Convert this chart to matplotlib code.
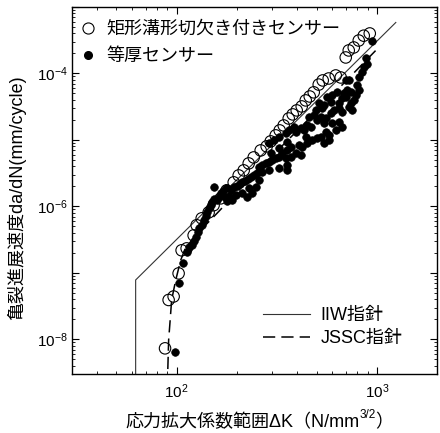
import numpy as np
import matplotlib
matplotlib.use("Agg")
import matplotlib.pyplot as plt
from matplotlib.lines import Line2D
from matplotlib.ticker import LogLocator, FuncFormatter, NullFormatter

plt.rcParams['font.family'] = ['Liberation Sans', 'Noto Sans CJK JP']
plt.rcParams['mathtext.fontset'] = 'custom'
plt.rcParams['mathtext.rm'] = 'Liberation Sans'
plt.rcParams['mathtext.it'] = 'Liberation Sans:italic'

# 矩形溝形切欠き付きセンサー (open circles)
notch_dk = [87.5, 91.2, 96.6, 102.3, 105.9, 112.2, 121.6, 125.9, 133.4, 144.5,
            153.0, 166.0, 177.8, 192.8, 204.2, 216.3, 229.1, 242.7, 263.0, 281.8,
            295.1, 312.6, 327.3, 342.7, 363.1, 380.2, 398.1, 421.7, 441.6, 462.4,
            484.2, 512.9, 537.0, 575.4, 623.7, 660.7, 699.8, 724.4, 767.4, 812.8,
            860.9, 922.6]
notch_rate = [7.3e-9, 3.9e-8, 4.4e-8, 9.8e-8, 2.18e-7, 2.33e-7, 3.66e-7, 5.2e-7, 6.6e-7, 8.1e-7,
              1.04e-6, 1.32e-6, 1.74e-6, 2.3e-6, 2.92e-6, 3.48e-6, 4.43e-6, 5.45e-6, 6.95e-6, 8.0e-6,
              9.5e-6, 1.17e-5, 1.39e-5, 1.65e-5, 2.1e-5, 2.42e-5, 2.78e-5, 3.19e-5, 3.93e-5, 4.5e-5,
              5.2e-5, 6.8e-5, 7.85e-5, 8.4e-5, 9.33e-5, 8.7e-5, 1.74e-4, 2.22e-4, 2.46e-4, 3.13e-4,
              3.7e-4, 4.0e-4]

# 等厚センサー (filled dots)
flat_dk = [97.7, 102.3, 107.2, 114.8, 112.2, 118.9, 121.6, 124.5, 127.4, 128.8,
           133.4, 136.5, 139.6, 141.3, 144.5, 147.9, 149.6, 153.1, 153.1, 158.5,
           162.2, 166.0, 169.8, 173.8, 177.8, 182.0, 175.8, 186.2, 192.8, 199.5,
           206.5, 211.3, 218.8, 226.5, 234.4, 242.7, 251.2, 188.4, 197.2, 211.3,
           223.9, 237.1, 229.1, 248.3, 257.0, 257.0, 266.1, 266.1, 278.6, 288.4,
           288.4, 298.5, 312.6, 323.6, 323.6, 335.0, 350.8, 354.8, 354.8, 354.8,
           371.5, 371.5, 295.1, 323.6, 354.8, 288.4, 305.5, 323.6, 350.8, 363.1,
           384.6, 393.6, 416.9, 431.5, 446.7, 467.7, 484.2, 393.6, 416.9, 407.4,
           446.7, 473.2, 501.2, 441.6, 421.7, 524.8, 555.9, 575.4, 575.4, 543.3,
           623.7, 668.3, 543.3, 595.7, 645.7, 524.8, 501.2, 457.1, 555.9, 588.8,
           609.6, 645.7, 668.3, 724.4, 749.9, 530.9, 543.3, 495.5, 588.8, 595.7,
           631.0, 668.3, 699.8, 683.9, 707.9, 741.3, 785.2, 767.4, 741.3, 645.7,
           724.4, 699.8, 812.8, 841.4, 794.3, 860.9, 891.3, 881.0, 944.1, 812.8,
           512.9, 562.3]
flat_rate = [6.4e-9, 6.95e-8, 1.39e-7, 2.42e-7, 2.03e-7, 2.59e-7, 2.98e-7, 3.42e-7, 4.06e-7, 4.67e-7,
             5.2e-7, 6.15e-7, 7.07e-7, 8.1e-7, 9.3e-7, 1.04e-6, 1.15e-6, 1.27e-6, 1.93e-6, 1.23e-6,
             1.36e-6, 1.57e-6, 1.68e-6, 1.36e-6, 1.19e-6, 1.41e-6, 1.87e-6, 1.74e-6, 1.93e-6, 2.0e-6,
             2.14e-6, 2.3e-6, 2.38e-6, 2.55e-6, 2.73e-6, 2.92e-6, 3.13e-6, 1.23e-6, 1.46e-6, 1.57e-6,
             1.36e-6, 1.57e-6, 1.87e-6, 1.93e-6, 2.46e-6, 3.86e-6, 3.25e-6, 4.14e-6, 4.43e-6, 4.59e-6,
             3.48e-6, 4.9e-6, 5.27e-6, 5.45e-6, 3.73e-6, 6.3e-6, 5.27e-6, 6.95e-6, 4.14e-6, 3.48e-6,
             7.7e-6, 5.45e-6, 6.3e-6, 7.45e-6, 9.17e-6, 8.9e-6, 9.8e-6, 1.09e-5, 1.25e-5, 1.39e-5,
             1.54e-5, 1.3e-5, 1.49e-5, 1.39e-5, 1.65e-5, 1.54e-5, 2.34e-5, 6.3e-6, 5.85e-6, 8.27e-6,
             8.9e-6, 9.8e-6, 1.05e-5, 1.09e-5, 7.7e-6, 1.09e-5, 1.3e-5, 1.17e-5, 9.8e-6, 8.9e-6,
             1.39e-5, 1.54e-5, 1.77e-5, 1.77e-5, 1.83e-5, 2.18e-5, 1.96e-5, 2.18e-5, 2.1e-5, 2.5e-5,
             2.78e-5, 2.98e-5, 2.59e-5, 3.08e-5, 2.78e-5, 2.98e-5, 3.3e-5, 2.78e-5, 3.66e-5, 4.67e-5,
             5.18e-5, 4.21e-5, 4.36e-5, 5.0e-5, 5.55e-5, 5.18e-5, 4.67e-5, 3.93e-5, 3.54e-5, 3.54e-5,
             7.85e-5, 7.85e-5, 8.7e-5, 1.035e-4, 6.6e-5, 1.23e-4, 1.41e-4, 1.68e-4, 3.13e-4, 5.55e-5,
             3.54e-5, 4.36e-5]

# IIW指針 design curve (threshold then slope 3)
iiw_dk = [62.4, 62.4, 1245]
iiw_rate = [1e-9, 7.8e-8, 5.85e-4]

# JSSC指針 design curve
jssc_dk = [90.0, 90.2, 91.2, 93.0, 94.4, 98.9, 104.7, 110.9, 130, 160, 250, 500, 1000]
jssc_rate = [1e-9, 3.0e-9, 9.7e-9, 2.1e-8, 3.9e-8, 7.7e-8, 1.54e-7, 2.4e-7, 4.2e-7, 8.0e-7,
             3.3e-6, 2.7e-5, 2.3e-4]

fig = plt.figure(figsize=(4.4, 4.33), dpi=100)
ax = fig.add_axes([72/440, 59/433, 365/440, 367/433])

ax.plot(iiw_dk, iiw_rate, color='#333333', lw=0.8)
ax.plot(jssc_dk, jssc_rate, color='k', lw=1.1, ls=(0, (8, 4)))
ax.scatter(flat_dk, flat_rate, s=30, facecolor='k', edgecolor='k', lw=0.5, zorder=3)
ax.scatter(notch_dk, notch_rate, s=68, facecolor='none', edgecolor='k', lw=0.8, zorder=4)

ax.set_xscale('log')
ax.set_yscale('log')
ax.set_xlim(30, 2000)
ax.set_ylim(3e-9, 1e-3)

ax.xaxis.set_major_locator(LogLocator(base=10, numticks=10))
ax.xaxis.set_minor_locator(LogLocator(base=10, subs=np.arange(2, 10), numticks=20))
ax.yaxis.set_major_locator(LogLocator(base=10, numticks=20))
ax.yaxis.set_minor_locator(LogLocator(base=10, subs=np.arange(2, 10), numticks=40))


def xfmt(v, pos):
    return r'$\mathrm{10^{%d}}$' % int(round(np.log10(v)))


def yfmt(v, pos):
    e = int(round(np.log10(v)))
    if e % 2:
        return ''
    return r'$\mathrm{10^{%d}}$' % e


ax.xaxis.set_major_formatter(FuncFormatter(xfmt))
ax.yaxis.set_major_formatter(FuncFormatter(yfmt))
ax.xaxis.set_minor_formatter(NullFormatter())
ax.yaxis.set_minor_formatter(NullFormatter())
ax.tick_params(which='both', direction='in', top=True, right=True, labelsize=11)
ax.tick_params(which='major', length=5, width=0.8)
ax.tick_params(which='minor', length=2.5, width=0.6)
ax.tick_params(axis='x', pad=6)
ax.tick_params(axis='y', pad=3)
for s in ax.spines.values():
    s.set_linewidth(1.0)

ax.set_ylabel('亀裂進展速度da/dN(mm/cycle)', fontsize=13)
ax.yaxis.set_label_coords(-0.125, 0.48)

h_open = Line2D([], [], ls='none', marker='o', mfc='none', mec='k', ms=8, mew=0.8)
h_fill = Line2D([], [], ls='none', marker='o', mfc='k', mec='k', ms=5.5)
leg1 = ax.legend([h_open, h_fill], ['矩形溝形切欠き付きセンサー', '等厚センサー'],
                 loc='upper left', bbox_to_anchor=(0.019, 0.962), frameon=False,
                 fontsize=13, handlelength=1.0, handletextpad=0.5, borderpad=0,
                 borderaxespad=0, labelspacing=0.55)
ax.add_artist(leg1)

h_iiw = Line2D([], [], color='#333333', lw=0.8)
h_jssc = Line2D([], [], color='k', lw=1.1, ls=(0, (8, 4)))
ax.legend([h_iiw, h_jssc], ['IIW指針', 'JSSC指針'], loc='upper left',
          bbox_to_anchor=(0.523, 0.183), frameon=False, fontsize=13,
          handlelength=2.6, handletextpad=0.6, borderpad=0, borderaxespad=0,
          labelspacing=0.35)

# x label with superscript exponent pieced together
fig.canvas.draw()
r = fig.canvas.get_renderer()
base_y = 6/433
t1 = fig.text(125/440, base_y, '応力拡大係数範囲ΔK（N/mm', fontsize=13, va='baseline')
bb = t1.get_window_extent(r)
t2 = fig.text(bb.x1/440, base_y + 9/433, '3/2', fontsize=8.5, va='baseline')
bb2 = t2.get_window_extent(r)
fig.text(bb2.x1/440, base_y, '）', fontsize=13, va='baseline')

fig.savefig('out.png', dpi=100)
